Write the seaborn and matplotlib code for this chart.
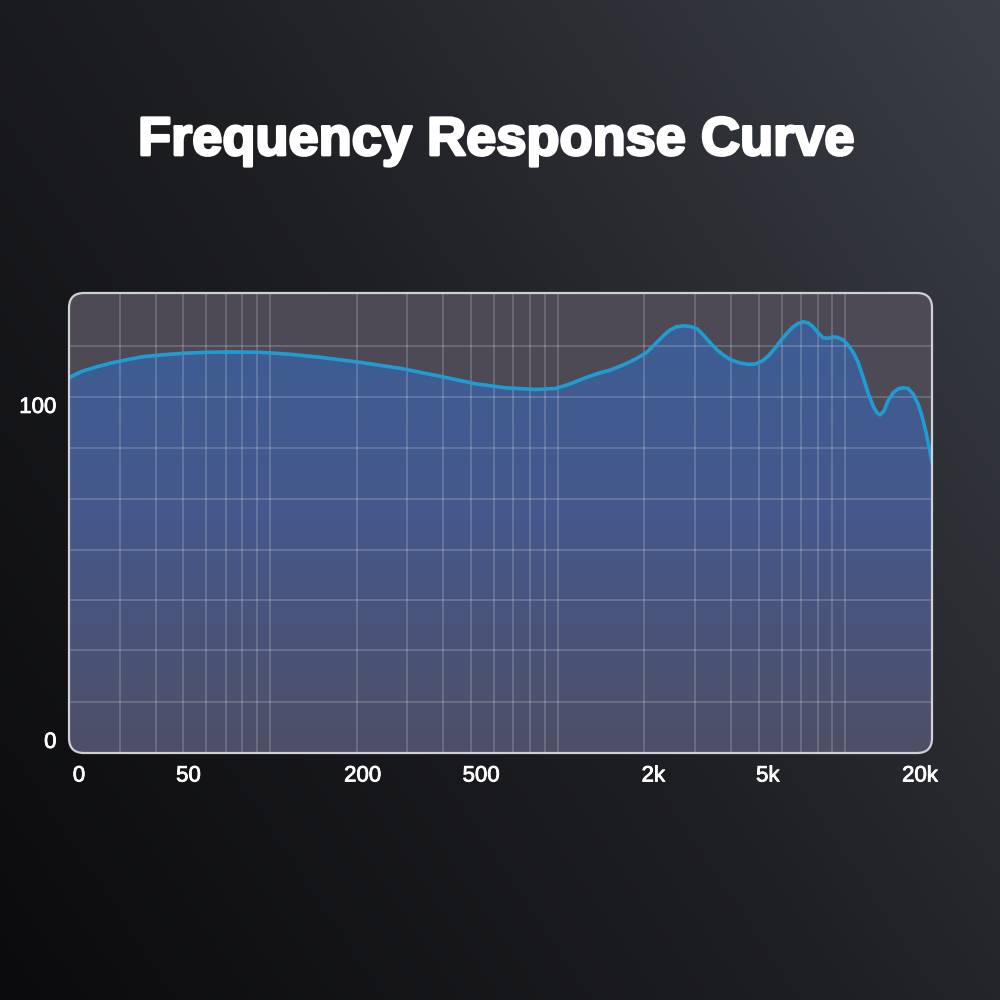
import numpy as np
import matplotlib
matplotlib.use("Agg")
import matplotlib.pyplot as plt
import seaborn as sns
import matplotlib.patheffects as pe
from matplotlib.patches import FancyBboxPatch
from matplotlib.colors import LinearSegmentedColormap
from matplotlib.ticker import NullLocator
from matplotlib.transforms import ScaledTranslation

# frequency response (Hz, level)
freq_hz = [20, 22.0, 24.8, 28.0, 31.5, 35.6, 41.7, 49.8, 59.8, 73.0, 92.9,
           118, 150, 206, 284, 392, 518, 658, 837, 982, 1107, 1248, 1406,
           1524, 1718, 1892, 2048, 2218, 2346, 2462, 2583, 2732, 2890, 3055,
           3205, 3389, 3584, 3760, 4010, 4308, 4592, 4855, 5140, 5436, 5700,
           5982, 6280, 6580, 6850, 7132, 7416, 7720, 8035, 8372, 8710, 9060,
           9430, 9815, 10210, 10630, 11060, 11510, 11990, 12480, 12890, 13190,
           13620, 14060, 14650, 15250, 15870, 16510, 17180, 17890, 18460,
           19060, 19530, 20000]
level_db = [108.1, 109.9, 111.3, 112.5, 113.4, 114.3, 114.9, 115.4, 115.7,
            115.8, 115.7, 115.1, 114.2, 112.7, 110.9, 108.5, 106.3, 105.1,
            104.6, 104.9, 106.3, 108.1, 109.6, 110.4, 112.2, 114.0, 115.8,
            118.8, 120.9, 122.4, 123.3, 123.6, 123.4, 122.7, 120.9, 118.5,
            116.4, 114.9, 113.4, 112.5, 112.1, 112.2, 113.1, 114.9, 117.0,
            119.4, 121.5, 123.3, 124.3, 124.8, 124.5, 123.3, 121.5, 120.0,
            119.9, 120.3, 120.1, 119.4, 117.9, 115.8, 112.8, 108.4, 103.6,
            99.7, 97.6, 97.0, 98.2, 101.2, 103.6, 104.8, 105.1, 104.9, 103.3,
            100.3, 96.7, 91.9, 87.5, 83.0]

x_tick_freqs = [20, 50, 200, 500, 2000, 5000, 20000]
x_tick_labels = ["0", "50", "200", "500", "2k", "5k", "20k"]
x_label_shift = [10, 5, 6, 10, 9, 9, -12]   # px nudges like the original
y_ticks = [0, 100]
y_tick_labels = ["0", "100"]

grid_freqs = [30, 40, 50, 60, 70, 80, 90, 100, 200, 300, 400, 500, 600, 700,
              800, 900, 1000, 2000, 3000, 4000, 5000, 6000, 7000, 8000, 9000,
              10000]
grid_levels = [11.3, 26.9, 41.8, 56.7, 71.9, 87.2, 102.4, 117.6]

fig = plt.figure(figsize=(10, 10), dpi=100)

# dark background, lighter toward top right
ax_bg = fig.add_axes([0, 0, 1, 1], zorder=0)
gx, gy = np.meshgrid(np.linspace(0, 1, 300), np.linspace(0, 1, 300))
bg_cmap = LinearSegmentedColormap.from_list("bg", ["#0b0b0d", "#1e1f23", "#3b3e46"])
ax_bg.imshow(0.6 * gx + 0.4 * gy, cmap=bg_cmap, origin="lower",
             extent=(0, 1, 0, 1), aspect="auto", vmin=0, vmax=1)
ax_bg.set_axis_off()

rect = (0.069, 0.247, 0.863, 0.46)
frame = FancyBboxPatch(rect[:2], rect[2], rect[3],
                       boxstyle="round,pad=0,rounding_size=0.015",
                       transform=fig.transFigure, facecolor="none",
                       edgecolor="#cfcfd6", linewidth=1.6, zorder=5)
fig.add_artist(frame)

# blue gradient under the curve
ax_fill = fig.add_axes(rect, zorder=1)
fill_cmap = LinearSegmentedColormap.from_list("fill", ["#4e4f66", "#45588b", "#3d5f96"])
im = ax_fill.imshow(np.linspace(0, 1, 256).reshape(-1, 1), cmap=fill_cmap,
                    origin="lower", extent=(0, 1, 0, 1), aspect="auto")
im.set_clip_path(frame)
ax_fill.set_axis_off()

ax = fig.add_axes(rect, zorder=2)
ax.patch.set_visible(False)
ax.set_xscale("log")
ax.set_xlim(20, 20000)
ax.set_ylim(-3.9, 133.4)

top = ax.fill_between(freq_hz, level_db, 140, color="#4d4a56", linewidth=0, zorder=1)
top.set_clip_path(frame)

for f in grid_freqs:
    ln = ax.axvline(f, color="white", alpha=0.22, lw=1.1, zorder=2)
    ln.set_clip_path(frame)
for v in grid_levels:
    ln = ax.axhline(v, color="white", alpha=0.22, lw=1.1, zorder=2)
    ln.set_clip_path(frame)

sns.lineplot(x=freq_hz, y=level_db, ax=ax, color="#1f9dd2", lw=2.6, zorder=3)
for line in ax.get_lines():
    line.set_clip_path(frame)
    line.set_solid_joinstyle("round")

ax.xaxis.set_minor_locator(NullLocator())
ax.set_xticks(x_tick_freqs)
ax.set_xticklabels(x_tick_labels)
ax.set_yticks(y_ticks)
ax.set_yticklabels(y_tick_labels)
ax.tick_params(length=0, colors="white", labelsize=16, pad=9)
for lbl in ax.get_xticklabels() + ax.get_yticklabels():
    lbl.set_fontfamily("Liberation Sans")
    lbl.set_path_effects([pe.withStroke(linewidth=0.6, foreground="white")])
for lbl, dx in zip(ax.get_xticklabels(), x_label_shift):
    lbl.set_transform(lbl.get_transform() + ScaledTranslation(dx / 100, 0, fig.dpi_scale_trans))
ax.set_xlabel("")
ax.set_ylabel("")
for s in ax.spines.values():
    s.set_visible(False)

fig.text(0.496, 0.845, "Frequency Response Curve", ha="center", va="baseline",
         color="white", fontsize=39, fontweight="bold", family="Liberation Sans",
         path_effects=[pe.withStroke(linewidth=2, foreground="white")])

fig.savefig("out.png", dpi=100)
